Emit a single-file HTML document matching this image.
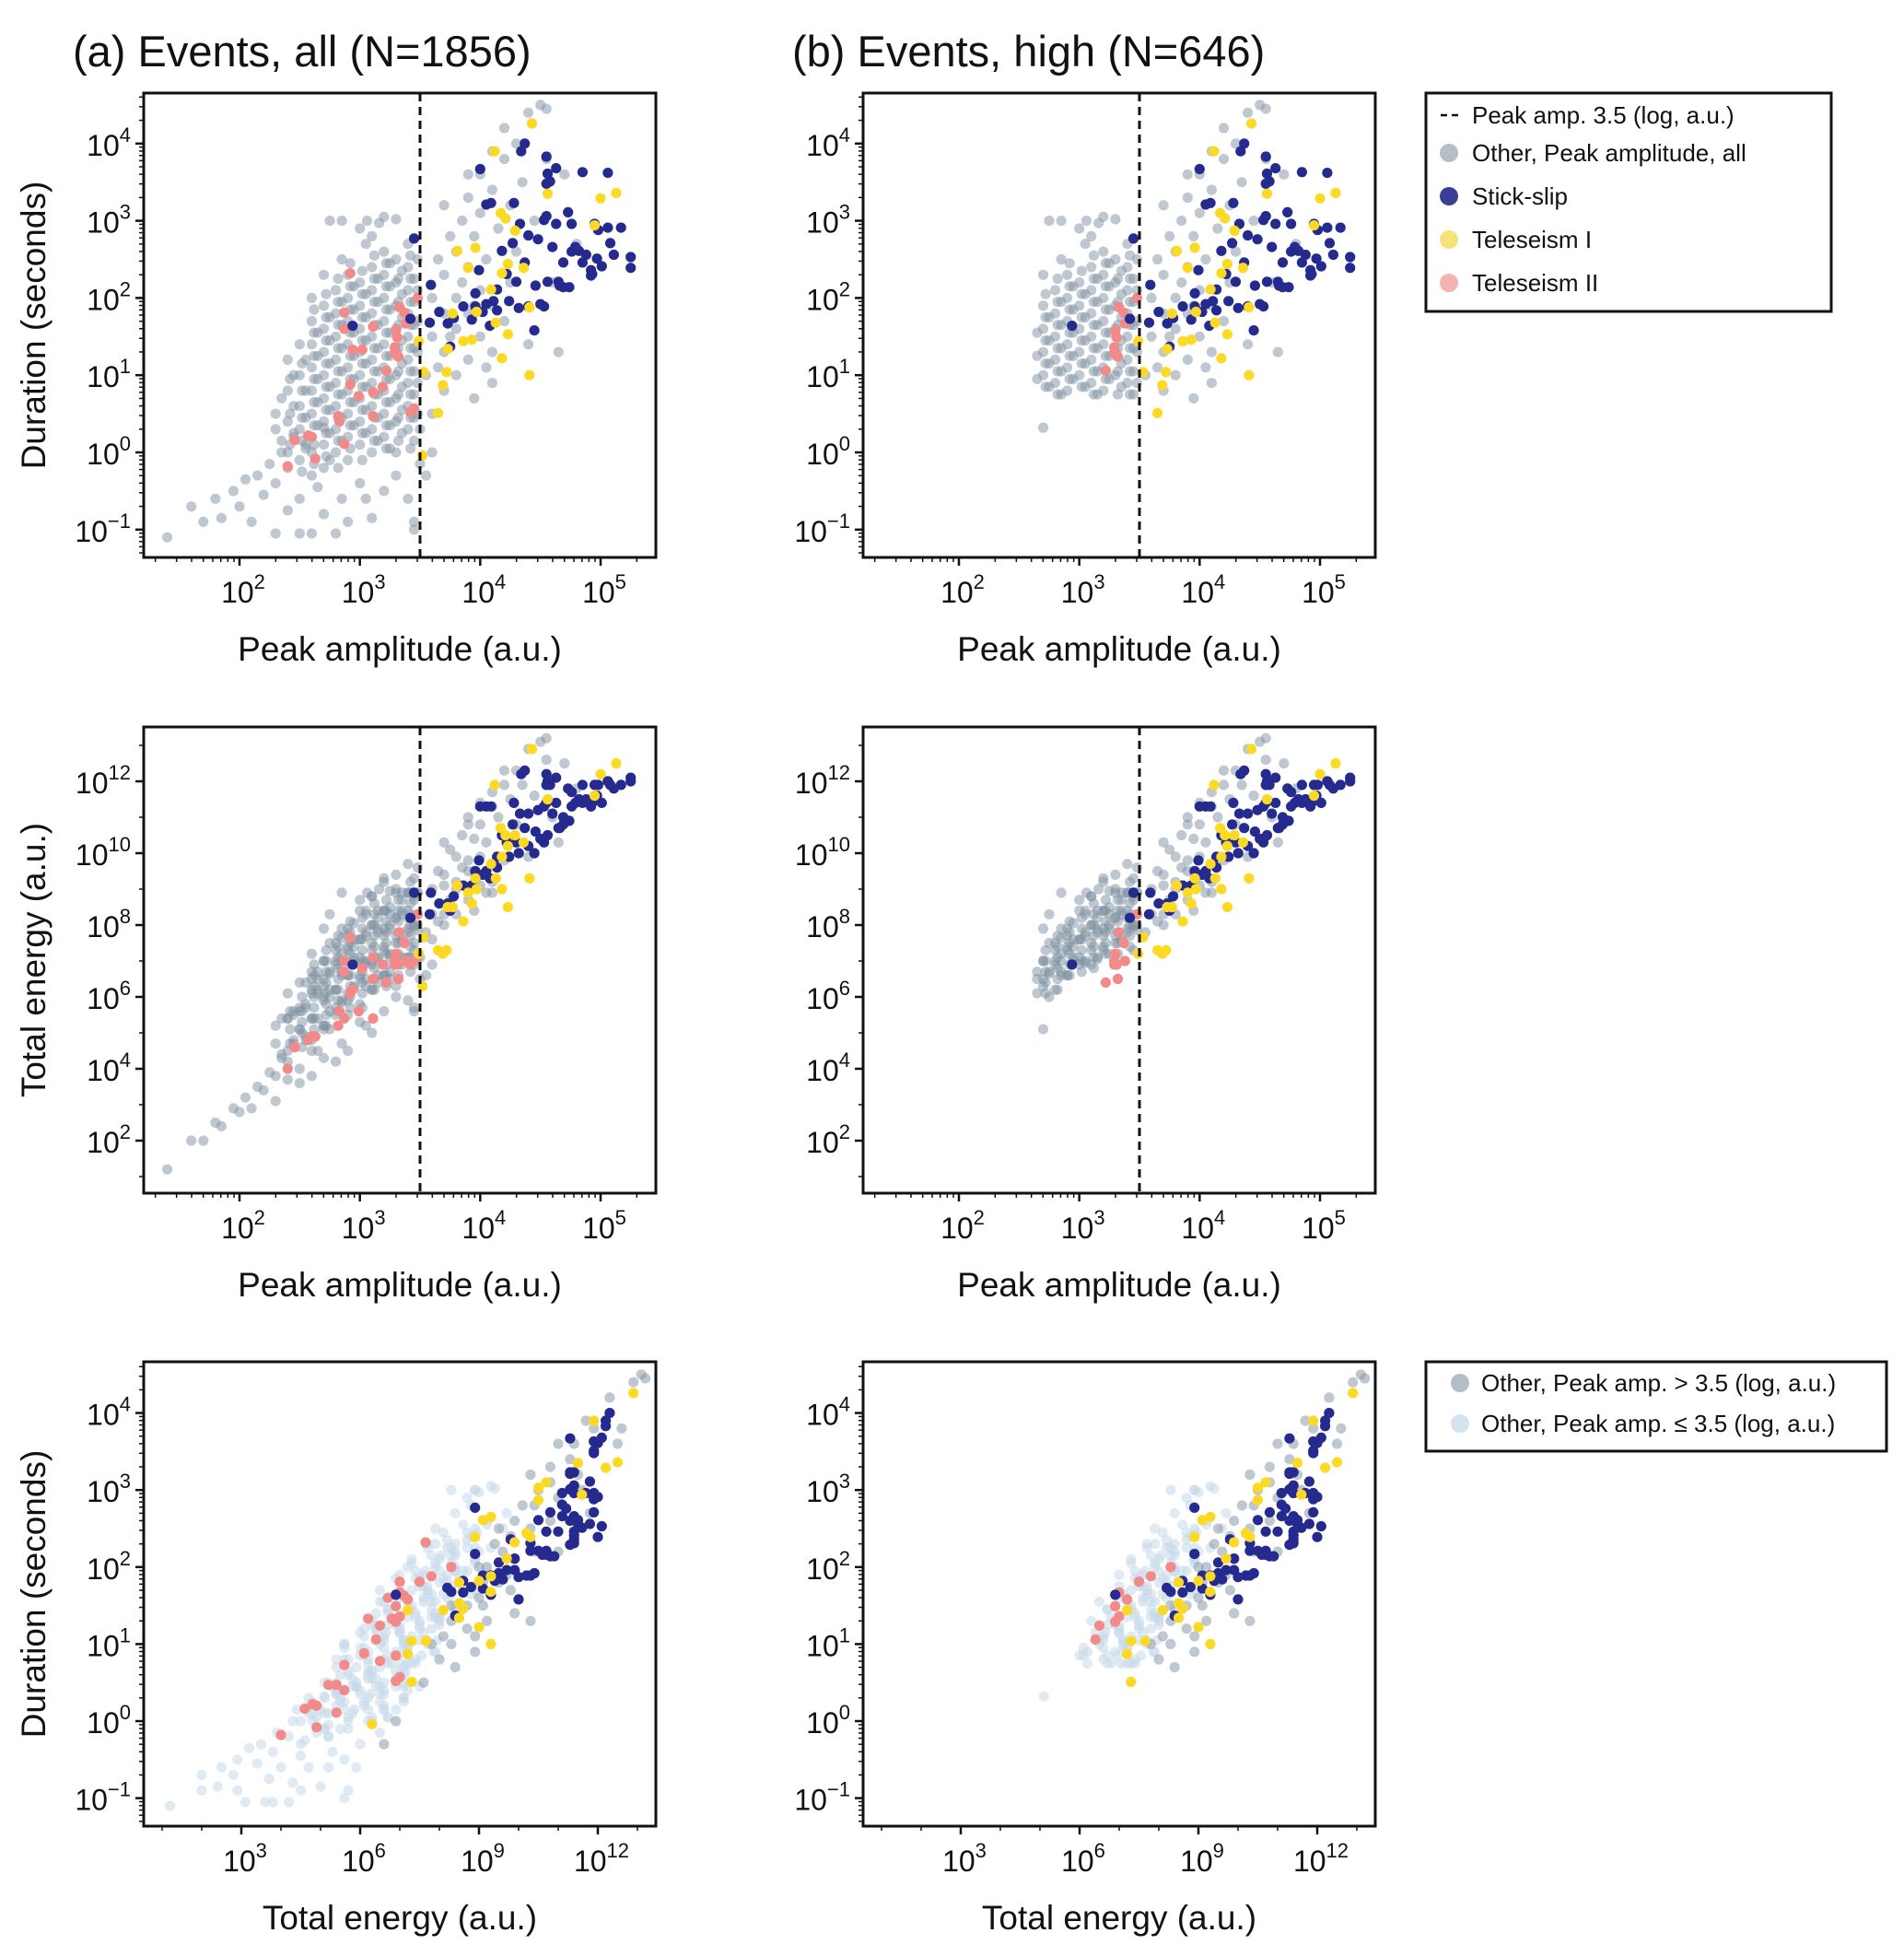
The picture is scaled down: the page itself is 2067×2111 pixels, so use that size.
<!DOCTYPE html>
<html><head><meta charset="utf-8"><style>
html,body{margin:0;padding:0;background:#fff;}
svg{display:block;font-family:"Liberation Sans",Arial,sans-serif;}
</style></head><body>
<svg id="fig" width="2067" height="2111" viewBox="0 0 2067 2111" xmlns="http://www.w3.org/2000/svg">
<rect x="0" y="0" width="2067" height="2111" fill="#fff"/>
<text x="79" y="72" font-size="47" fill="#111">(a) Events, all (N=1856)</text>
<text x="860" y="72" font-size="47" fill="#111">(b) Events, high (N=646)</text>
<g id="plots"></g>
<g>
<rect x="1548" y="101" width="440" height="237" fill="#fff" stroke="#111" stroke-width="3"/>
<line x1="1564" y1="125" x2="1584" y2="125" stroke="#111" stroke-width="2.5" stroke-dasharray="7 5"/>
<text x="1598" y="134" font-size="26" fill="#111">Peak amp. 3.5 (log, a.u.)</text>
<circle cx="1573" cy="166" r="10" fill="#b4bfc8"/>
<text x="1598" y="175" font-size="26" fill="#111">Other, Peak amplitude, all</text>
<circle cx="1573" cy="213" r="10" fill="#3a3f96"/>
<text x="1598" y="222" font-size="26" fill="#111">Stick-slip</text>
<circle cx="1573" cy="260" r="10" fill="#f7e27a"/>
<text x="1598" y="269" font-size="26" fill="#111">Teleseism I</text>
<circle cx="1573" cy="307" r="10" fill="#f3b3b3"/>
<text x="1598" y="316" font-size="26" fill="#111">Teleseism II</text>
</g>
<g>
<rect x="1548" y="1478" width="500" height="97" fill="#fff" stroke="#111" stroke-width="3"/>
<circle cx="1585" cy="1501" r="10" fill="#b2bdc7"/>
<text x="1608" y="1510" font-size="26" fill="#111">Other, Peak amp. &gt; 3.5 (log, a.u.)</text>
<circle cx="1585" cy="1545" r="10" fill="#d3e2ee"/>
<text x="1608" y="1554" font-size="26" fill="#111">Other, Peak amp. ≤ 3.5 (log, a.u.)</text>
</g>
</svg>
<script>
// ---------- data (log10 values) ----------
const otherAmp = [1.4,1.6,1.7,1.8,1.85,1.95,2.0,2.05,2.1,2.15,2.2,2.25,2.3,2.3,2.35,2.4,2.4,2.45,2.5,2.5,2.55,2.6,2.6,2.65,2.7,2.75,2.8,2.85,2.9,3.0,3.05,3.1,3.2,3.3,3.4,3.45,3.45,3.5,
 3.55,3.6,3.6,3.6,3.65,3.7,3.7,3.7,3.7,3.75,3.8,3.8,3.8,3.8,3.85,3.9,3.9,3.9,3.9,3.95,3.95,4.0,4.0,4.0,4.0,4.05,4.1,4.1,4.1,4.1,4.15,4.2,4.2,4.2,4.25,4.3,4.3,4.35,4.4,4.4,4.45,4.5,4.55,4.6,4.65,4.7,4.8,4.55,3.6,3.5,3.55,3.65,3.75,3.85,4.05,3.95,4.25,3.7,3.9,4.1,3.16,3.06,2.7];
const otherDur = [-1.1,-0.7,-0.9,-0.6,-0.85,-0.5,-0.7,-0.35,-0.9,-0.3,-0.55,-0.15,-1.05,-0.4,0.0,-0.2,-0.75,0.2,-0.6,-1.05,0.1,-0.3,-1.05,-0.45,-0.8,-0.1,-1.05,-0.6,-0.9,-0.4,-0.6,-0.85,-0.5,-0.3,-0.6,-0.9,-1.0,-0.15,
 1.0,0.5,1.5,2.0,2.5,0.8,1.3,1.8,2.3,2.8,1.0,1.6,2.0,2.6,3.0,1.2,1.8,2.4,3.3,0.7,2.8,1.5,2.1,3.1,3.6,2.5,0.9,1.3,1.9,3.4,2.9,1.7,3.8,4.2,3.2,2.6,4.0,3.5,4.4,1.4,3.0,4.5,3.8,2.2,1.3,3.6,2.7,4.45,0.0,0.3,-0.3,1.1,1.5,2.2,1.1,1.9,2.2,3.2,3.6,3.9,2.97,3.0,0.32];
const otherEnergy = [1.2,2.0,2.0,2.5,2.4,2.9,2.8,3.2,2.9,3.5,3.4,3.9,3.1,3.8,4.3,4.2,3.7,4.7,4.0,3.6,4.8,4.5,3.8,4.5,4.3,5.1,4.2,4.7,4.5,5.3,5.2,5.0,5.6,6.0,5.9,5.7,5.6,6.5,
 7.8,7.6,8.3,9.0,9.5,8.0,8.3,9.1,9.4,10.1,8.3,9.0,9.2,9.9,10.5,8.7,9.5,9.8,10.8,8.4,10.4,9.1,9.9,10.8,11.4,10.3,8.9,9.2,9.7,11.3,11.0,9.8,11.9,12.3,11.5,10.8,12.3,11.9,12.9,9.9,11.6,13.1,12.6,11.0,10.3,12.5,11.8,13.2,6.9,7.1,6.6,8.1,8.7,9.6,8.9,9.5,10.4,10.3,11.0,11.7,9.0,8.9,5.1];
const otherHighExtra = [0,0,0,0,0,0,0,0,0,0,0,0,0,0,0,0,0,0,0,0,0,0,0,0,0,0,0,0,0,0,0,0,0,0,0,0,0,0,
 0,0,0,0,0,0,0,0,0,0,0,0,0,0,0,0,0,0,0,0,0,0,0,0,0,0,0,0,0,0,0,0,0,0,0,0,0,0,0,0,0,0,0,0,0,0,0,0,0,0,0,0,0,0,0,0,0,0,0,0,0,0,1];
// "Other" dense core, grouped by amplitude column
const coreAmp = [2.3,2.35,2.4,2.45,2.5,2.55,2.6,2.65,2.7,2.75,2.8,2.85,2.9,2.95,3.0,3.05,3.1,3.15,3.2,3.25,3.3,3.35,3.4,3.45,3.48,
 2.42,2.52,2.62,2.72,2.82,2.92,3.02,3.12,3.22,3.32,3.42];
const coreDur = [[0.3,0.5],[0.15,0.7],[0.0,0.4,0.8,1.2],[0.25,0.6,1.0],[-0.1,0.3,0.6,1.0,1.4],[0.05,0.45,0.8,1.2],
 [0.0,0.2,0.5,0.8,1.1,1.4,1.7,2.0],[0.35,0.65,0.95,1.25,1.55],[-0.2,0.1,0.4,0.7,1.0,1.3,1.6,1.9,2.3],[0.25,0.55,0.85,1.15,1.45,1.75,3.0],
 [0.0,0.3,0.6,0.9,1.2,1.5,1.8,2.1],[0.15,0.45,0.75,1.05,1.35,1.65,1.95,2.5,3.0],[-0.1,0.2,0.5,0.8,1.1,1.4,1.7,2.0,2.3],[0.35,0.65,0.95,1.25,1.55,1.85,2.15],
 [0.1,0.4,0.7,1.0,1.3,1.6,1.9,2.2,2.9],[0.25,0.55,0.85,1.15,1.45,1.75,2.05,2.7],[0.0,0.3,0.6,0.9,1.2,1.5,1.8,2.1,2.4,2.8],[0.15,0.45,0.75,1.05,1.35,1.65,1.95,2.25],
 [0.2,0.5,0.8,1.1,1.4,1.7,2.0,2.3,2.6,3.05],[0.05,0.35,0.65,0.95,1.25,1.55,1.85,2.15,2.45],[0.0,0.4,0.7,1.0,1.3,1.6,1.9,2.2,2.5,3.02],[0.25,0.55,0.85,1.15,1.45,1.75,2.05,2.35],
 [0.3,0.6,0.9,1.2,1.5,1.8,2.1,2.4,2.7],[0.15,0.45,0.75,1.05,1.35,1.65,1.95,2.25],[0.5,0.9,1.3,1.7,2.1,2.5],
 [0.1,0.5,0.95],[-0.25,0.15,0.45,0.8,1.15],[-0.15,0.1,0.35,0.65,0.95,1.25,1.55,1.85],[-0.05,0.25,0.55,0.85,1.15,1.45,1.75,2.05],
 [-0.2,0.15,0.45,0.75,1.05,1.35,1.65,1.95,2.25],[0.05,0.35,0.65,0.95,1.25,1.55,1.85,2.15,2.45],[-0.1,0.25,0.55,0.85,1.15,1.45,1.75,2.05,2.35],
 [0.15,0.45,0.75,1.05,1.35,1.65,1.95,2.25,2.55],[0.05,0.35,0.65,0.95,1.25,1.55,1.85,2.15,2.45],[0.15,0.45,0.75,1.05,1.35,1.65,1.95,2.25],
 [0.05,0.45,0.75,1.05,1.35,1.65,1.95,2.25,2.55]];
const coreEnergy = [[4.7,5.2],[4.4,5.4],[4.5,5.4,5.4,6.1],[4.8,5.5,5.6],[5.1,5.1,5.7,5.6,6.4],[4.9,5.8,5.7,6.4],
 [4.8,5.4,5.4,6.2,6.1,6.7,6.5,7.2],[5.4,6.2,6.1,6.7,6.5],[5.2,5.2,6.0,5.9,6.5,6.3,7.0,7.0,7.9],[5.6,6.2,6.0,6.65,6.7,7.5,8.3],
 [5.7,5.5,6.2,6.2,7.0,6.9,7.5,7.3],[5.85,5.9,6.7,6.6,7.2,7.0,7.65,7.9,8.9],[5.5,6.1,5.9,6.6,6.6,7.4,7.3,7.9,7.7],[6.25,6.3,7.1,7.0,7.6,7.4,8.05],
 [5.8,6.6,6.5,7.1,6.9,7.6,7.6,8.4,8.7],[6.5,6.3,6.95,7.0,7.8,7.7,8.3,8.4],[6.2,6.2,7.0,6.9,7.5,7.3,8.0,8.0,8.8,8.8],[6.6,6.4,7.05,7.1,7.9,7.8,8.4,8.2],
 [6.6,6.6,7.4,7.3,7.9,7.7,8.4,8.4,9.2,9.3],[6.7,6.5,7.15,7.2,8.0,7.9,8.5,8.3,8.95],[6.3,7.2,7.1,7.7,7.5,8.2,8.2,9.0,8.9,9.4],[7.1,6.9,7.55,7.6,8.4,8.3,8.9,8.7],
 [7.1,7.1,7.9,7.8,8.4,8.2,8.9,8.9,9.7],[6.9,7.5,7.3,7.95,8.0,8.8,8.7,9.3],[7.1,7.86,8.0,8.9,8.9,9.6],
 [4.7,5.1,5.6],[4.6,5.0,5.3,5.6,6.0],[4.9,5.1,5.4,5.7,6.0,6.3,6.6,6.9],[5.2,5.5,5.8,6.1,6.4,6.7,7.0,7.3],
 [5.2,5.6,5.9,6.2,6.5,6.8,7.1,7.4,7.7],[5.7,6.0,6.3,6.6,6.9,7.2,7.5,7.8,8.1],[5.7,6.1,6.4,6.7,7.0,7.3,7.6,7.9,8.2],
 [6.2,6.5,6.8,7.1,7.4,7.7,8.0,8.3,8.6],[6.3,6.6,6.9,7.2,7.5,7.8,8.1,8.4,8.7],[6.6,6.9,7.2,7.5,7.8,8.1,8.4,8.7],
 [6.7,7.1,7.4,7.7,8.0,8.3,8.6,8.9,9.2]];
// Stick-slip
const stickAmp = [3.45,3.42,2.94,3.59,3.66,3.58,3.75,3.73,3.78,3.86,3.93,3.96,3.99,4.05,4.08,4.11,4.14,4.18,4.22,4.24,4.27,4.3,4.33,4.37,4.4,4.45,4.46,4.48,4.5,4.53,4.55,4.56,4.6,4.63,4.65,4.66,4.69,4.73,4.76,4.79,4.82,4.85,4.88,4.92,4.93,4.95,4.97,5.01,5.06,5.08,5.11,5.17,
 4.85,5.06,5.25,5.25,4.55,4.56,4.63,4.55,4.58,4.0,4.37,4.34,4.09,4.05,4.28,3.96,4.53,4.69,4.74,4.4,4.14,4.02,4.32,4.98,4.76,4.92];
const stickDur = [2.77,1.73,1.64,2.17,1.82,1.68,1.37,1.67,1.74,1.89,1.72,2.06,2.36,1.92,1.64,1.96,2.11,2.61,2.31,1.96,2.71,2.21,2.96,2.46,2.81,1.58,2.16,2.76,1.92,3.01,3.06,2.21,2.66,2.96,2.21,2.16,2.46,3.11,2.96,2.66,2.61,2.46,2.56,2.36,2.31,2.96,2.51,2.41,2.91,2.71,2.56,2.91,
 3.63,3.62,2.53,2.39,3.83,3.61,3.68,3.48,3.51,3.67,4.0,3.9,3.23,3.21,3.23,1.89,1.89,2.14,2.14,1.89,1.84,1.82,1.87,2.88,2.6,2.29];
const stickEnergy = [8.9,8.2,6.9,8.9,8.6,8.3,8.4,8.6,8.8,9.1,9.1,9.5,9.8,9.5,9.3,9.7,9.9,10.5,10.3,9.9,10.8,10.3,11.1,10.7,11.1,10.0,10.6,11.2,10.4,11.3,11.4,10.5,11.1,11.4,10.7,10.7,11.0,11.8,11.7,11.4,11.5,11.4,11.5,11.4,11.4,11.9,11.6,11.4,12.0,11.9,11.8,11.9,
 11.9,12.0,12.1,12.0,12.2,12.0,12.1,11.9,11.9,11.3,12.3,12.2,11.3,11.3,11.4,9.3,10.3,10.8,10.9,10.2,9.6,9.4,10.0,11.9,11.3,11.3];
// Teleseism I
const tele1Amp = [4.43,4.12,4.56,5.0,5.13,4.95,4.17,4.21,4.29,3.81,3.96,3.9,4.23,4.36,4.18,4.09,4.41,3.77,3.97,4.13,4.23,3.86,3.93,3.73,4.18,4.41,3.53,3.72,3.69,3.65,3.49,3.52];
const tele1Dur = [4.26,3.9,3.35,3.29,3.36,2.94,3.1,3.03,2.87,2.61,2.65,2.39,2.44,2.39,2.32,2.11,1.88,1.8,1.82,1.68,1.53,1.44,1.46,1.34,1.22,1.0,1.04,1.04,0.87,0.51,1.44,-0.04];
const tele1Energy = [12.9,11.9,11.5,12.2,12.5,11.6,10.7,10.5,10.5,9.1,9.3,8.9,10.2,10.3,9.9,9.7,9.3,8.5,9.0,9.3,8.5,8.1,8.6,8.5,9.0,9.3,7.66,7.3,7.2,7.3,7.2,6.3];
const tele1High = [1,1,1,1,1,1,1,1,1,1,1,1,1,1,1,1,1,1,1,1,1,1,1,1,1,1,1,1,1,1,1,0];
// Teleseism II
const tele2Amp = [2.92,3.48,2.87,2.87,3.11,3.33,3.37,3.3,3.31,3.38,2.94,3.02,3.29,3.32,3.22,2.92,2.99,3.11,3.19,3.11,2.82,2.83,3.42,3.45,2.87,2.46,2.57,2.6,2.63,2.4,3.29];
const tele2Dur = [2.32,2.0,1.81,1.6,1.63,1.88,1.81,1.58,1.49,1.67,1.33,1.33,1.29,1.24,1.06,0.88,0.73,0.78,0.85,0.47,0.47,0.4,0.52,0.57,0.11,0.16,0.22,0.2,-0.08,-0.18,1.36];
const tele2Energy = [7.65,8.3,7.0,6.7,7.1,7.8,7.5,7.2,6.9,7.0,6.2,6.8,6.9,6.5,6.4,6.1,5.6,6.5,6.9,5.4,5.2,5.6,6.9,7.0,5.4,4.6,4.8,4.9,4.9,4.0,7.0];
const tele2High = [0,1,0,0,0,1,1,1,1,1,0,0,1,1,1,0,0,0,0,0,0,0,0,0,0,0,0,0,0,0,1];
const thresholdAmp = 3.5;
const durTicks = [-1,0,1,2,3,4];
const energyTicks = [2,4,6,8,10,12];
const ampTicks = [2,3,4,5];
const energyXTicks = [3,6,9,12];

// ---------- build event list ----------
const NS = 'http://www.w3.org/2000/svg';
const others = [];
for (let i = 0; i < Math.min(otherAmp.length, otherDur.length, otherEnergy.length); i++) others.push([otherAmp[i], otherDur[i], otherEnergy[i], otherHighExtra[i] || 0]);
coreAmp.forEach((a, g) => { coreDur[g].forEach((d, j) => others.push([a, d, coreEnergy[g][j], 0])); });
function isHighOther(ev){ return ev[3] === 1 || (ev[0] > thresholdAmp && ev[1] >= 0.6) || (ev[0] >= 2.65 && ev[1] >= 0.75); }
const stick = stickAmp.map((a,i)=>[a, stickDur[i], stickEnergy[i]]);
const tele1 = tele1Amp.map((a,i)=>[a, tele1Dur[i], tele1Energy[i], tele1High[i]]);
const tele2 = tele2Amp.map((a,i)=>[a, tele2Dur[i], tele2Energy[i], tele2High[i]]);

function mk(tag, attrs, parent){ const el = document.createElementNS(NS, tag); for (const k in attrs) el.setAttribute(k, attrs[k]); parent.appendChild(el); return el; }

const root = document.getElementById('plots');
const rows = [
  {y0:101, y1:605, xf:v=>260+(v-2)*130.67, yf:v=>491-v*83.8, xi:0, yi:1, xt:ampTicks, yt:durTicks, xl:'Peak amplitude (a.u.)', yl:'Duration (seconds)', xmin:1.2, xmax:5.46, ymin:-1.36, ymax:4.66, xsub:true, ysub:true, vline:true},
  {y0:789, y1:1295, xf:v=>260+(v-2)*130.67, yf:v=>848-(v-12)*39, xi:0, yi:2, xt:ampTicks, yt:energyTicks, xl:'Peak amplitude (a.u.)', yl:'Total energy (a.u.)', xmin:1.2, xmax:5.46, ymin:0.54, ymax:13.5, xsub:true, ysub:false, vline:true},
  {y0:1478, y1:1982, xf:v=>262+(v-3)*43, yf:v=>1868-v*83.6, xi:2, yi:1, xt:energyXTicks, yt:durTicks, xl:'Total energy (a.u.)', yl:'Duration (seconds)', xmin:0.54, xmax:13.46, ymin:-1.36, ymax:4.67, xsub:false, ysub:true, vline:false}
];

rows.forEach((r, ri) => {
  [0,1].forEach(col => {
    const dx = col*781;
    const x0 = 156+dx, x1 = 712+dx;
    const X = v => r.xf(v)+dx;
    const Y = r.yf;
    const g = mk('g', {}, root);
    
    
    const cid = 'clip'+ri+col;
    const cp = mk('clipPath', {id:cid}, g);
    mk('rect', {x:x0, y:r.y0, width:x1-x0, height:r.y1-r.y0}, cp);
    const pts = mk('g', {'clip-path':'url(#'+cid+')'}, g);
    
    
    const dot = (ev, fill, op, name) => {
      const c = mk('circle', {cx:X(ev[r.xi]).toFixed(1), cy:Y(ev[r.yi]).toFixed(1), r:5.6, fill:fill, 'fill-opacity':op}, pts);
      
      
    };
    const oth = col ? others.filter(isHighOther) : others;
    if (ri === 2) {
      oth.filter(e=>e[0] <= thresholdAmp).forEach(e=>dot(e, '#c6d9ea', 0.55, 'point-other-low'));
      oth.filter(e=>e[0] > thresholdAmp).forEach(e=>dot(e, '#7f92a2', 0.5, 'point-other-high'));
    } else {
      oth.forEach(e=>dot(e, '#7f92a2', 0.5, 'point-other'));
    }
    (col ? tele2.filter(e=>e[3]) : tele2).forEach(e=>dot(e, '#f28a8a', 1, 'point-teleseism-2'));
    stick.forEach(e=>dot(e, '#252a8e', 1, 'point-stick-slip'));
    (col ? tele1.filter(e=>e[3]) : tele1).forEach(e=>dot(e, '#fcd925', 1, 'point-teleseism-1'));
    if (r.vline) {
      const l = mk('line', {x1:X(thresholdAmp), x2:X(thresholdAmp), y1:r.y0, y2:r.y1, stroke:'#111', 'stroke-width':3, 'stroke-dasharray':'9 6'}, g);
      
      
    }
    const tk = mk('g', {stroke:'#111'}, g);
    
    
    for (let d = Math.floor(r.xmin); d <= Math.ceil(r.xmax); d++) {
      if (r.xsub) { for (let m=2;m<=9;m++){ const v=d+Math.log10(m); if (v>r.xmin && v<r.xmax) mk('line',{x1:X(v),x2:X(v),y1:r.y1,y2:r.y1+5,'stroke-width':1.5},tk);} }
      else if (r.xt.indexOf(d)<0 && d>r.xmin && d<r.xmax) mk('line',{x1:X(d),x2:X(d),y1:r.y1,y2:r.y1+5,'stroke-width':1.5},tk);
    }
    for (let d = Math.floor(r.ymin); d <= Math.ceil(r.ymax); d++) {
      if (r.ysub) { for (let m=2;m<=9;m++){ const v=d+Math.log10(m); if (v>r.ymin && v<r.ymax) mk('line',{x1:x0-5,x2:x0,y1:Y(v),y2:Y(v),'stroke-width':1.5},tk);} }
      else if (r.yt.indexOf(d)<0 && d>r.ymin && d<r.ymax) mk('line',{x1:x0-5,x2:x0,y1:Y(d),y2:Y(d),'stroke-width':1.5},tk);
    }
    r.xt.forEach(t => {
      mk('line',{x1:X(t),x2:X(t),y1:r.y1,y2:r.y1+9,'stroke-width':2.5},tk);
      const tx = mk('text', {x:X(t)+4, y:r.y1+49, 'font-size':32, 'text-anchor':'middle', fill:'#111'}, g);
      
      
      tx.appendChild(document.createTextNode('10'));
      const s = mk('tspan', {dy:-15, 'font-size':22}, tx); s.textContent = String(t);
    });
    r.yt.forEach(t => {
      mk('line',{x1:x0-9,x2:x0,y1:Y(t),y2:Y(t),'stroke-width':2.5},tk);
      const ty = mk('text', {x:x0-14, y:Y(t)+13, 'font-size':32, 'text-anchor':'end', fill:'#111'}, g);
      
      
      ty.appendChild(document.createTextNode('10'));
      const s = mk('tspan', {dy:-15, 'font-size':22}, ty); s.textContent = t < 0 ? '\u2212' + Math.abs(t) : String(t);
    });
    const fr = mk('rect', {x:x0, y:r.y0, width:x1-x0, height:r.y1-r.y0, fill:'none', stroke:'#111', 'stroke-width':3}, g);
    
    
    const xl = mk('text', {x:(x0+x1)/2, y:r.y1+112, 'font-size':37, 'text-anchor':'middle', fill:'#111'}, g);
    
    
    xl.textContent = r.xl;
    if (col === 0) {
      const cy = (r.y0+r.y1)/2;
      const yl = mk('text', {x:49, y:cy, 'font-size':37, 'text-anchor':'middle', fill:'#111', transform:'rotate(-90 49 '+cy+')'}, g);
      
      
      yl.textContent = r.yl;
    }
  });
});
</script>
</body></html>
